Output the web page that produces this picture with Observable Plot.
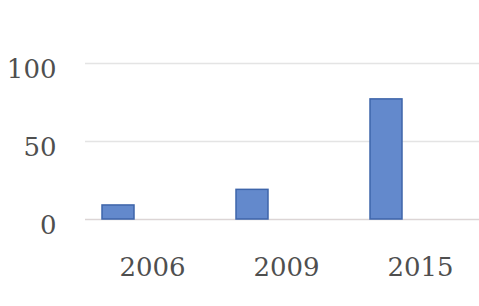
<!DOCTYPE html>
<html>
<head>
<meta charset="utf-8">
<script src="https://cdn.jsdelivr.net/npm/d3@7"></script>
<script src="https://cdn.jsdelivr.net/npm/@observablehq/plot@0.6"></script>
<style>
  html, body { margin: 0; padding: 0; background: #ffffff; overflow: hidden; }
  #chart svg { max-width: none !important; }
</style>
</head>
<body>
<div id="chart"></div>
<script>
const years = ["2006", "2009", "2015"];
const values = [9, 19, 77];
const seriesSlots = ["s1", "s2", "s3"]; // cluster slots; only the first series carries data
const yTicks = [0, 50, 100];
const gridValues = [50, 100];

const data = years.map((year, i) => ({year, series: seriesSlots[0], value: values[i]}));

const chart = Plot.plot({
  width: 488,
  height: 306,
  marginLeft: 84,
  marginRight: 0,
  marginTop: 63,
  marginBottom: 87,
  style: {fontFamily: "DejaVu Serif", fontSize: "26px", color: "#4f4f4f", background: "#ffffff", maxWidth: "none"},
  fx: {domain: years, padding: 0, label: null},
  x: {domain: seriesSlots, paddingInner: 0.05, paddingOuter: 0.45, axis: null},
  y: {domain: [0, 100], label: null},
  marks: [
    Plot.ruleY(gridValues, {stroke: "#e4e4e4", strokeWidth: 1.5}),
    Plot.ruleY([0], {stroke: "#dcd5d5", strokeWidth: 1.5}),
    Plot.barY(data, {fx: "year", x: "series", y: "value", fill: "#6389cc", stroke: "#3e65aa", strokeWidth: 1.5}),
    Plot.axisY({ticks: yTicks, tickSize: 0, tickPadding: 29, dy: 6, label: null, fill: "#4f4f4f"}),
    Plot.axisFx({anchor: "bottom", tickSize: 0, tickPadding: 38, label: null, fill: "#4f4f4f"})
  ]
});
document.getElementById("chart").append(chart);
</script>
</body>
</html>
